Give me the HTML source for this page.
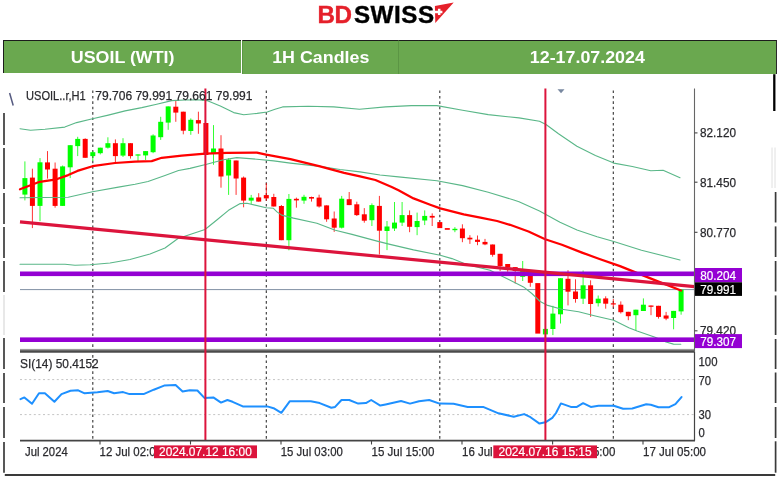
<!DOCTYPE html>
<html><head><meta charset="utf-8"><title>USOIL (WTI) 1H Candles</title>
<style>
html,body{margin:0;padding:0;background:#fff}
body{width:780px;height:478px;position:relative;overflow:hidden;font-family:"Liberation Sans",Arial,sans-serif}
.logo{position:absolute;left:317.6px;top:0.6px;height:28px;line-height:28px;font-weight:bold;font-size:24.2px;letter-spacing:-0.5px;-webkit-text-stroke:0.4px currentColor;white-space:nowrap;color:#000}
.logo .bd{color:#e5202a}
.logo .sw{margin-left:2.4px;letter-spacing:0.55px}
.hd{position:absolute;top:40px;background:#6aa84f;border-top:1.5px solid #1c1c1c;color:#fff;font-weight:bold;font-size:17.33px;text-align:center;box-sizing:border-box}
.hd span{position:relative;display:block;top:1.3px;transform:scaleX(1.03)}
.c1{left:3.2px;width:238.3px;height:33px;line-height:31px;border-left:1.5px solid #1c1c1c}
.c2{left:241.5px;width:156.5px;height:34.4px;line-height:31px;border-left:1px solid #5b9544}
.c3{left:398px;width:378.7px;height:34.4px;line-height:31px;border-left:1px solid #5b9544;border-right:1.7px solid #2a2a2a}
</style></head><body>
<div class="logo"><span class="bd">BD</span><span class="sw">SWISS</span></div>
<svg width="24" height="24" viewBox="0 0 24 24" style="position:absolute;left:432px;top:0"><path d="M2.9 6.1 L21.7 2.4 L3.3 23 Z" fill="#e5202a"/><path d="M7.2 8.7v6.4M2.6 11.9h7.8" stroke="#fff" stroke-width="2.5"/></svg>
<div class="hd c1"><span>USOIL (WTI)</span></div>
<div class="hd c2"><span>1H Candles</span></div>
<div class="hd c3"><span>12-17.07.2024</span></div>
<svg width="780" height="478" viewBox="0 0 780 478" style="position:absolute;left:0;top:0">
<line x1="92.8" y1="90.5" x2="92.8" y2="440" stroke="#333" stroke-width="1.1" stroke-dasharray="2.6,2.8"/>
<line x1="266.3" y1="90.5" x2="266.3" y2="440" stroke="#333" stroke-width="1.1" stroke-dasharray="2.6,2.8"/>
<line x1="439.8" y1="90.5" x2="439.8" y2="440" stroke="#333" stroke-width="1.1" stroke-dasharray="2.6,2.8"/>
<line x1="613.3" y1="90.5" x2="613.3" y2="440" stroke="#333" stroke-width="1.1" stroke-dasharray="2.6,2.8"/>
<line x1="20" y1="379.6" x2="694" y2="379.6" stroke="#c4c4c4" stroke-width="1" stroke-dasharray="2,2.6"/>
<line x1="20" y1="414.6" x2="694" y2="414.6" stroke="#c4c4c4" stroke-width="1" stroke-dasharray="2,2.6"/>
<line x1="20" y1="289.6" x2="694" y2="289.6" stroke="#8090a4" stroke-width="1"/>
<g><line x1="24.9" y1="161.4" x2="24.9" y2="200.4" stroke="#00ff00" stroke-width="1" stroke-opacity="0.8"/><rect x="22.4" y="178.1" width="5.0" height="16.5" fill="#00ff00"/><line x1="32.4" y1="168.7" x2="32.4" y2="228.1" stroke="#ff0000" stroke-width="1" stroke-opacity="0.8"/><rect x="29.9" y="177.6" width="5.0" height="28.3" fill="#ff0000"/><line x1="40.0" y1="158.1" x2="40.0" y2="221.2" stroke="#00ff00" stroke-width="1" stroke-opacity="0.8"/><rect x="37.5" y="162.3" width="5.0" height="43.6" fill="#00ff00"/><line x1="47.5" y1="151.1" x2="47.5" y2="178.6" stroke="#ff0000" stroke-width="1" stroke-opacity="0.8"/><rect x="45.0" y="162.4" width="5.0" height="7.1" fill="#ff0000"/><line x1="55.1" y1="162.5" x2="55.1" y2="207.7" stroke="#ff0000" stroke-width="1" stroke-opacity="0.8"/><rect x="52.6" y="168.7" width="5.0" height="37.2" fill="#ff0000"/><line x1="62.6" y1="165.5" x2="62.6" y2="205.9" stroke="#00ff00" stroke-width="1" stroke-opacity="0.8"/><rect x="60.1" y="166.4" width="5.0" height="39.5" fill="#00ff00"/><line x1="70.2" y1="145.0" x2="70.2" y2="178.1" stroke="#00ff00" stroke-width="1" stroke-opacity="0.8"/><rect x="67.7" y="145.2" width="5.0" height="22.1" fill="#00ff00"/><line x1="77.7" y1="136.8" x2="77.7" y2="156.1" stroke="#00ff00" stroke-width="1" stroke-opacity="0.8"/><rect x="75.2" y="138.9" width="5.0" height="7.2" fill="#00ff00"/><line x1="85.2" y1="138.3" x2="85.2" y2="157.8" stroke="#ff0000" stroke-width="1" stroke-opacity="0.8"/><rect x="82.7" y="138.9" width="5.0" height="18.9" fill="#ff0000"/><line x1="92.8" y1="151.0" x2="92.8" y2="161.0" stroke="#00ff00" stroke-width="1" stroke-opacity="0.8"/><rect x="90.3" y="152.2" width="5.0" height="3.9" fill="#00ff00"/><line x1="100.3" y1="147.7" x2="100.3" y2="154.4" stroke="#00ff00" stroke-width="1" stroke-opacity="0.8"/><rect x="97.8" y="147.7" width="5.0" height="5.5" fill="#00ff00"/><line x1="107.9" y1="137.3" x2="107.9" y2="148.6" stroke="#00ff00" stroke-width="1" stroke-opacity="0.8"/><rect x="105.4" y="143.2" width="5.0" height="4.5" fill="#00ff00"/><line x1="115.4" y1="139.4" x2="115.4" y2="162.8" stroke="#ff0000" stroke-width="1" stroke-opacity="0.8"/><rect x="112.9" y="143.2" width="5.0" height="12.9" fill="#ff0000"/><line x1="123.0" y1="138.2" x2="123.0" y2="157.0" stroke="#00ff00" stroke-width="1" stroke-opacity="0.8"/><rect x="120.5" y="143.2" width="5.0" height="12.4" fill="#00ff00"/><line x1="130.5" y1="143.2" x2="130.5" y2="158.6" stroke="#ff0000" stroke-width="1" stroke-opacity="0.8"/><rect x="128.0" y="143.2" width="5.0" height="12.9" fill="#ff0000"/><line x1="138.0" y1="154.4" x2="138.0" y2="161.1" stroke="#00ff00" stroke-width="1" stroke-opacity="0.8"/><rect x="135.5" y="154.4" width="5.0" height="1.2" fill="#00ff00"/><line x1="145.6" y1="151.1" x2="145.6" y2="160.0" stroke="#00ff00" stroke-width="1" stroke-opacity="0.8"/><rect x="143.1" y="151.1" width="5.0" height="4.3" fill="#00ff00"/><line x1="153.1" y1="134.3" x2="153.1" y2="153.2" stroke="#00ff00" stroke-width="1" stroke-opacity="0.8"/><rect x="150.6" y="135.5" width="5.0" height="16.7" fill="#00ff00"/><line x1="160.7" y1="116.8" x2="160.7" y2="139.9" stroke="#00ff00" stroke-width="1" stroke-opacity="0.8"/><rect x="158.2" y="121.8" width="5.0" height="15.4" fill="#00ff00"/><line x1="168.2" y1="106.4" x2="168.2" y2="129.8" stroke="#00ff00" stroke-width="1" stroke-opacity="0.8"/><rect x="165.7" y="106.4" width="5.0" height="16.2" fill="#00ff00"/><line x1="175.8" y1="100.4" x2="175.8" y2="121.8" stroke="#ff0000" stroke-width="1" stroke-opacity="0.8"/><rect x="173.3" y="106.7" width="5.0" height="5.9" fill="#ff0000"/><line x1="183.3" y1="111.7" x2="183.3" y2="134.3" stroke="#ff0000" stroke-width="1" stroke-opacity="0.8"/><rect x="180.8" y="111.7" width="5.0" height="19.0" fill="#ff0000"/><line x1="190.8" y1="118.4" x2="190.8" y2="134.8" stroke="#00ff00" stroke-width="1" stroke-opacity="0.8"/><rect x="188.3" y="119.8" width="5.0" height="11.2" fill="#00ff00"/><line x1="198.4" y1="111.7" x2="198.4" y2="133.8" stroke="#ff0000" stroke-width="1" stroke-opacity="0.8"/><rect x="195.9" y="120.1" width="5.0" height="3.4" fill="#ff0000"/><rect x="203.4" y="123.0" width="5.0" height="32.0" fill="#ff0000"/><line x1="213.5" y1="125.1" x2="213.5" y2="164.8" stroke="#00ff00" stroke-width="1" stroke-opacity="0.8"/><rect x="211.0" y="148.5" width="5.0" height="5.0" fill="#00ff00"/><line x1="221.0" y1="135.2" x2="221.0" y2="187.7" stroke="#ff0000" stroke-width="1" stroke-opacity="0.8"/><rect x="218.5" y="148.5" width="5.0" height="28.0" fill="#ff0000"/><line x1="228.6" y1="158.1" x2="228.6" y2="194.9" stroke="#00ff00" stroke-width="1" stroke-opacity="0.8"/><rect x="226.1" y="159.6" width="5.0" height="15.9" fill="#00ff00"/><line x1="236.1" y1="160.5" x2="236.1" y2="194.9" stroke="#ff0000" stroke-width="1" stroke-opacity="0.8"/><rect x="233.6" y="160.5" width="5.0" height="18.0" fill="#ff0000"/><line x1="243.6" y1="176.5" x2="243.6" y2="207.3" stroke="#ff0000" stroke-width="1" stroke-opacity="0.8"/><rect x="241.1" y="177.6" width="5.0" height="23.0" fill="#ff0000"/><line x1="251.2" y1="194.9" x2="251.2" y2="203.9" stroke="#00ff00" stroke-width="1" stroke-opacity="0.8"/><rect x="248.7" y="197.7" width="5.0" height="2.9" fill="#00ff00"/><line x1="258.7" y1="193.2" x2="258.7" y2="201.6" stroke="#ff0000" stroke-width="1" stroke-opacity="0.8"/><rect x="256.2" y="197.4" width="5.0" height="4.2" fill="#ff0000"/><line x1="266.3" y1="183.1" x2="266.3" y2="200.8" stroke="#ff0000" stroke-width="1" stroke-opacity="0.8"/><rect x="263.8" y="195.1" width="5.0" height="3.3" fill="#ff0000"/><line x1="273.8" y1="193.8" x2="273.8" y2="206.5" stroke="#ff0000" stroke-width="1" stroke-opacity="0.8"/><rect x="271.3" y="197.0" width="5.0" height="9.5" fill="#ff0000"/><line x1="281.4" y1="205.0" x2="281.4" y2="240.2" stroke="#ff0000" stroke-width="1" stroke-opacity="0.8"/><rect x="278.9" y="206.0" width="5.0" height="34.2" fill="#ff0000"/><line x1="288.9" y1="194.0" x2="288.9" y2="250.3" stroke="#00ff00" stroke-width="1" stroke-opacity="0.8"/><rect x="286.4" y="198.9" width="5.0" height="41.3" fill="#00ff00"/><line x1="296.4" y1="197.6" x2="296.4" y2="207.7" stroke="#ff0000" stroke-width="1" stroke-opacity="0.8"/><rect x="293.9" y="198.8" width="5.0" height="1.6" fill="#ff0000"/><line x1="304.0" y1="194.8" x2="304.0" y2="203.8" stroke="#00ff00" stroke-width="1" stroke-opacity="0.8"/><rect x="301.5" y="196.8" width="5.0" height="3.8" fill="#00ff00"/><line x1="311.5" y1="196.6" x2="311.5" y2="201.6" stroke="#ff0000" stroke-width="1" stroke-opacity="0.8"/><rect x="309.0" y="197.0" width="5.0" height="1.6" fill="#ff0000"/><line x1="319.1" y1="194.7" x2="319.1" y2="207.6" stroke="#ff0000" stroke-width="1" stroke-opacity="0.8"/><rect x="316.6" y="197.6" width="5.0" height="8.9" fill="#ff0000"/><line x1="326.6" y1="205.4" x2="326.6" y2="221.8" stroke="#ff0000" stroke-width="1" stroke-opacity="0.8"/><rect x="324.1" y="205.4" width="5.0" height="13.9" fill="#ff0000"/><line x1="334.2" y1="211.5" x2="334.2" y2="231.9" stroke="#ff0000" stroke-width="1" stroke-opacity="0.8"/><rect x="331.7" y="218.5" width="5.0" height="9.2" fill="#ff0000"/><line x1="341.7" y1="195.9" x2="341.7" y2="228.5" stroke="#00ff00" stroke-width="1" stroke-opacity="0.8"/><rect x="339.2" y="198.7" width="5.0" height="29.0" fill="#00ff00"/><line x1="349.2" y1="192.0" x2="349.2" y2="205.1" stroke="#ff0000" stroke-width="1" stroke-opacity="0.8"/><rect x="346.7" y="199.2" width="5.0" height="5.9" fill="#ff0000"/><line x1="356.8" y1="201.7" x2="356.8" y2="216.0" stroke="#ff0000" stroke-width="1" stroke-opacity="0.8"/><rect x="354.3" y="204.3" width="5.0" height="10.8" fill="#ff0000"/><line x1="364.3" y1="208.1" x2="364.3" y2="222.7" stroke="#ff0000" stroke-width="1" stroke-opacity="0.8"/><rect x="361.8" y="214.3" width="5.0" height="6.4" fill="#ff0000"/><line x1="371.9" y1="203.4" x2="371.9" y2="226.0" stroke="#00ff00" stroke-width="1" stroke-opacity="0.8"/><rect x="369.4" y="205.1" width="5.0" height="15.1" fill="#00ff00"/><line x1="379.4" y1="195.9" x2="379.4" y2="254.5" stroke="#ff0000" stroke-width="1" stroke-opacity="0.8"/><rect x="376.9" y="205.9" width="5.0" height="24.8" fill="#ff0000"/><line x1="387.0" y1="221.0" x2="387.0" y2="250.1" stroke="#00ff00" stroke-width="1" stroke-opacity="0.8"/><rect x="384.5" y="226.5" width="5.0" height="4.5" fill="#00ff00"/><line x1="394.5" y1="202.0" x2="394.5" y2="231.0" stroke="#00ff00" stroke-width="1" stroke-opacity="0.8"/><rect x="392.0" y="222.6" width="5.0" height="5.9" fill="#00ff00"/><line x1="402.1" y1="202.0" x2="402.1" y2="226.0" stroke="#00ff00" stroke-width="1" stroke-opacity="0.8"/><rect x="399.6" y="215.1" width="5.0" height="7.5" fill="#00ff00"/><line x1="409.6" y1="210.4" x2="409.6" y2="232.2" stroke="#ff0000" stroke-width="1" stroke-opacity="0.8"/><rect x="407.1" y="215.1" width="5.0" height="11.7" fill="#ff0000"/><line x1="417.1" y1="212.6" x2="417.1" y2="235.2" stroke="#00ff00" stroke-width="1" stroke-opacity="0.8"/><rect x="414.6" y="221.0" width="5.0" height="6.1" fill="#00ff00"/><line x1="424.7" y1="210.4" x2="424.7" y2="225.1" stroke="#00ff00" stroke-width="1" stroke-opacity="0.8"/><rect x="422.2" y="215.9" width="5.0" height="4.6" fill="#00ff00"/><line x1="432.2" y1="213.4" x2="432.2" y2="226.0" stroke="#ff0000" stroke-width="1" stroke-opacity="0.8"/><rect x="429.7" y="215.9" width="5.0" height="1.7" fill="#ff0000"/><rect x="437.3" y="222.1" width="5.0" height="6.0" fill="#ff0000"/><rect x="444.8" y="228.1" width="5.0" height="1.7" fill="#ff0000"/><line x1="454.9" y1="227.1" x2="454.9" y2="232.2" stroke="#00ff00" stroke-width="1" stroke-opacity="0.8"/><rect x="452.4" y="228.8" width="5.0" height="1.4" fill="#00ff00"/><line x1="462.4" y1="224.3" x2="462.4" y2="242.2" stroke="#ff0000" stroke-width="1" stroke-opacity="0.8"/><rect x="459.9" y="228.5" width="5.0" height="9.7" fill="#ff0000"/><line x1="469.9" y1="235.2" x2="469.9" y2="243.9" stroke="#ff0000" stroke-width="1" stroke-opacity="0.8"/><rect x="467.4" y="237.7" width="5.0" height="1.7" fill="#ff0000"/><line x1="477.5" y1="235.5" x2="477.5" y2="245.2" stroke="#ff0000" stroke-width="1" stroke-opacity="0.8"/><rect x="475.0" y="239.7" width="5.0" height="2.2" fill="#ff0000"/><line x1="485.0" y1="238.9" x2="485.0" y2="245.2" stroke="#ff0000" stroke-width="1" stroke-opacity="0.8"/><rect x="482.5" y="241.9" width="5.0" height="2.5" fill="#ff0000"/><line x1="492.6" y1="244.5" x2="492.6" y2="256.7" stroke="#ff0000" stroke-width="1" stroke-opacity="0.8"/><rect x="490.1" y="244.5" width="5.0" height="10.3" fill="#ff0000"/><line x1="500.1" y1="253.8" x2="500.1" y2="271.0" stroke="#ff0000" stroke-width="1" stroke-opacity="0.8"/><rect x="497.6" y="253.8" width="5.0" height="12.2" fill="#ff0000"/><line x1="507.7" y1="264.0" x2="507.7" y2="271.8" stroke="#ff0000" stroke-width="1" stroke-opacity="0.8"/><rect x="505.2" y="264.0" width="5.0" height="3.6" fill="#ff0000"/><line x1="515.2" y1="267.1" x2="515.2" y2="283.5" stroke="#ff0000" stroke-width="1" stroke-opacity="0.8"/><rect x="512.7" y="267.1" width="5.0" height="3.9" fill="#ff0000"/><line x1="522.7" y1="261.0" x2="522.7" y2="281.0" stroke="#00ff00" stroke-width="1" stroke-opacity="0.8"/><rect x="520.2" y="271.0" width="5.0" height="5.8" fill="#00ff00"/><line x1="530.3" y1="274.0" x2="530.3" y2="286.8" stroke="#ff0000" stroke-width="1" stroke-opacity="0.8"/><rect x="527.8" y="276.0" width="5.0" height="6.8" fill="#ff0000"/><rect x="535.3" y="283.1" width="5.0" height="50.5" fill="#ff0000"/><rect x="542.9" y="328.9" width="5.0" height="5.5" fill="#00ff00"/><line x1="552.9" y1="305.8" x2="552.9" y2="335.1" stroke="#00ff00" stroke-width="1" stroke-opacity="0.8"/><rect x="550.4" y="313.6" width="5.0" height="15.4" fill="#00ff00"/><line x1="560.5" y1="278.2" x2="560.5" y2="323.5" stroke="#00ff00" stroke-width="1" stroke-opacity="0.8"/><rect x="558.0" y="278.2" width="5.0" height="36.1" fill="#00ff00"/><line x1="568.0" y1="270.2" x2="568.0" y2="305.4" stroke="#ff0000" stroke-width="1" stroke-opacity="0.8"/><rect x="565.5" y="278.8" width="5.0" height="12.9" fill="#ff0000"/><line x1="575.5" y1="279.3" x2="575.5" y2="302.7" stroke="#ff0000" stroke-width="1" stroke-opacity="0.8"/><rect x="573.0" y="291.5" width="5.0" height="7.5" fill="#ff0000"/><line x1="583.1" y1="270.5" x2="583.1" y2="304.0" stroke="#00ff00" stroke-width="1" stroke-opacity="0.8"/><rect x="580.6" y="285.3" width="5.0" height="13.4" fill="#00ff00"/><line x1="590.6" y1="280.3" x2="590.6" y2="316.8" stroke="#ff0000" stroke-width="1" stroke-opacity="0.8"/><rect x="588.1" y="285.3" width="5.0" height="18.7" fill="#ff0000"/><line x1="598.2" y1="295.5" x2="598.2" y2="306.5" stroke="#00ff00" stroke-width="1" stroke-opacity="0.8"/><rect x="595.7" y="298.7" width="5.0" height="4.5" fill="#00ff00"/><line x1="605.7" y1="296.3" x2="605.7" y2="308.7" stroke="#ff0000" stroke-width="1" stroke-opacity="0.8"/><rect x="603.2" y="298.4" width="5.0" height="5.3" fill="#ff0000"/><line x1="613.3" y1="299.0" x2="613.3" y2="307.3" stroke="#ff0000" stroke-width="1" stroke-opacity="0.8"/><rect x="610.8" y="303.3" width="5.0" height="1.2" fill="#ff0000"/><line x1="620.8" y1="301.4" x2="620.8" y2="313.5" stroke="#ff0000" stroke-width="1" stroke-opacity="0.8"/><rect x="618.3" y="304.7" width="5.0" height="7.5" fill="#ff0000"/><line x1="628.3" y1="311.8" x2="628.3" y2="320.2" stroke="#ff0000" stroke-width="1" stroke-opacity="0.8"/><rect x="625.8" y="311.8" width="5.0" height="4.4" fill="#ff0000"/><line x1="635.9" y1="309.7" x2="635.9" y2="330.3" stroke="#00ff00" stroke-width="1" stroke-opacity="0.8"/><rect x="633.4" y="309.7" width="5.0" height="5.5" fill="#00ff00"/><line x1="643.4" y1="298.4" x2="643.4" y2="311.0" stroke="#00ff00" stroke-width="1" stroke-opacity="0.8"/><rect x="640.9" y="304.7" width="5.0" height="6.3" fill="#00ff00"/><line x1="651.0" y1="305.5" x2="651.0" y2="315.2" stroke="#ff0000" stroke-width="1" stroke-opacity="0.8"/><rect x="648.5" y="305.5" width="5.0" height="1.3" fill="#ff0000"/><line x1="658.5" y1="305.8" x2="658.5" y2="318.6" stroke="#ff0000" stroke-width="1" stroke-opacity="0.8"/><rect x="656.0" y="305.8" width="5.0" height="11.1" fill="#ff0000"/><line x1="666.1" y1="311.9" x2="666.1" y2="320.2" stroke="#ff0000" stroke-width="1" stroke-opacity="0.8"/><rect x="663.6" y="315.5" width="5.0" height="3.1" fill="#ff0000"/><line x1="673.6" y1="310.9" x2="673.6" y2="329.3" stroke="#00ff00" stroke-width="1" stroke-opacity="0.8"/><rect x="671.1" y="310.9" width="5.0" height="7.1" fill="#00ff00"/><line x1="681.1" y1="289.6" x2="681.1" y2="314.7" stroke="#00ff00" stroke-width="1" stroke-opacity="0.8"/><rect x="678.6" y="289.6" width="5.0" height="21.8" fill="#00ff00"/></g>
<polyline points="20.0,128.8 30.5,130.2 45.0,129.3 64.8,127.1 76.6,122.6 92.5,118.8 108.3,115.1 125.1,110.9 141.8,107.6 156.7,104.2 171.8,100.6 185.0,100.0 197.0,99.8 206.9,100.6 220.3,105.9 233.7,112.6 243.7,114.8 257.1,113.4 267.2,112.0 275.0,109.3 282.6,106.9 308.2,106.2 333.8,106.9 359.5,109.3 385.6,106.9 411.3,105.6 436.9,105.6 462.6,110.3 488.2,114.6 519.0,117.9 539.5,121.2 546.0,124.5 558.5,133.8 576.9,146.2 595.4,155.4 613.8,163.1 632.3,166.5 650.8,170.8 663.1,170.2 680.0,177.8" fill="none" stroke="#5ab788" stroke-width="1.1" stroke-linejoin="round" stroke-linecap="round" />
<polyline points="20.0,197.7 68.2,197.2 92.5,191.8 118.4,187.1 135.1,184.3 148.0,181.5 165.0,175.5 178.5,170.5 190.0,168.4 206.7,164.3 223.5,159.7 236.8,157.6 256.9,159.2 273.7,160.9 290.4,163.1 320.0,166.4 340.0,169.5 360.0,171.9 380.0,175.0 398.5,176.9 436.9,180.8 462.6,185.6 488.2,192.3 513.8,200.0 519.0,201.8 539.5,211.0 560.0,222.3 577.0,230.0 597.1,236.7 613.8,241.5 641.5,250.2 680.0,260.0" fill="none" stroke="#5ab788" stroke-width="1.1" stroke-linejoin="round" stroke-linecap="round" />
<polyline points="20.0,264.2 65.0,264.2 75.0,265.2 90.0,264.8 110.0,263.0 130.0,259.5 150.0,254.0 165.0,248.0 178.0,238.5 190.0,234.5 205.0,229.5 216.8,220.0 228.5,210.3 240.2,203.6 246.9,203.2 266.1,207.8 273.4,208.3 277.0,211.9 281.7,215.1 293.5,218.1 316.9,223.2 335.3,230.2 352.0,234.4 377.1,241.1 390.0,244.4 413.5,249.9 440.2,255.3 451.9,258.6 463.7,263.3 473.7,266.1 490.0,270.2 506.7,278.5 523.5,286.9 531.8,293.5 540.2,301.5 546.8,305.1 561.8,309.3 578.6,311.8 595.3,316.0 613.7,320.2 628.8,327.7 637.1,331.0 655.1,337.3 666.0,342.0 673.5,344.1 680.8,344.2" fill="none" stroke="#5ab788" stroke-width="1.1" stroke-linejoin="round" stroke-linecap="round" />
<polyline points="20.0,189.3 39.7,181.8 56.5,179.3 68.2,175.1 77.4,170.9 92.5,166.2 115.0,163.0 135.1,161.6 151.7,161.1 161.7,157.8 181.8,155.6 205.2,153.7 227.0,152.8 256.9,152.6 266.1,154.7 290.4,159.2 320.0,166.4 344.1,172.8 360.0,176.4 375.4,180.0 391.7,187.0 398.5,190.3 413.5,198.4 430.2,204.7 440.2,208.4 463.7,214.3 480.4,217.6 497.1,221.0 510.0,224.8 528.5,231.5 545.2,239.2 561.9,244.7 582.0,252.6 598.8,258.8 620.0,266.1 653.5,279.6 681.0,290.5" fill="none" stroke="#ff0000" stroke-width="2.25" stroke-linejoin="round" stroke-linecap="round" />
<rect x="20" y="271.5" width="675" height="4.6" fill="#9400d3"/>
<rect x="20" y="337.4" width="675" height="4.6" fill="#9400d3"/>
<line x1="20" y1="221.9" x2="694.5" y2="286.6" stroke="#dc143c" stroke-width="3.2"/>
<rect x="20" y="348.9" width="675" height="3.7" fill="#9a9a9a"/><rect x="20" y="350.4" width="675" height="2.2" fill="#4a4a4a"/>
<polyline points="20.5,399.2 24.4,397.4 32.0,403.8 39.0,393.3 44.9,393.3 54.4,401.8 61.5,394.1 70.5,390.8 78.2,390.3 84.6,393.3 97.4,392.3 107.7,391.0 114.1,393.3 123.1,392.1 129.5,394.1 143.6,394.1 153.8,389.7 164.1,385.6 175.6,385.1 182.6,391.5 189.7,390.3 197.4,390.5 204.4,397.9 213.3,397.4 221.0,402.6 227.4,400.0 232.6,401.8 242.8,406.4 267.2,406.4 273.6,408.2 281.3,412.8 289.7,401.3 310.8,401.3 319.7,403.1 331.3,407.7 335.1,406.9 341.5,400.0 349.2,400.0 358.2,403.6 365.9,403.1 371.2,400.0 380.3,405.6 385.6,404.4 401.0,401.0 410.0,403.6 419.0,401.3 429.2,400.0 439.5,403.6 453.6,403.8 467.7,406.9 483.1,406.9 498.5,413.3 513.8,416.7 524.1,414.1 530.5,417.2 539.5,423.6 545.4,422.3 552.3,417.9 556.0,413.0 560.9,403.4 570.8,406.9 576.9,406.9 583.1,403.2 590.8,406.9 598.5,405.7 613.8,405.7 623.1,408.8 632.3,408.5 646.2,404.2 650.8,404.8 658.5,407.2 669.2,407.2 675.4,404.2 681.5,397.1" fill="none" stroke="#1e90ff" stroke-width="2" stroke-linejoin="round" stroke-linecap="round" />
<line x1="205.4" y1="88.5" x2="205.4" y2="440" stroke="#dc143c" stroke-width="2"/>
<line x1="545.4" y1="88.5" x2="545.4" y2="440" stroke="#dc143c" stroke-width="2"/>
<line x1="694.5" y1="88.5" x2="694.5" y2="352" stroke="#666" stroke-width="1.1"/><line x1="694.5" y1="352" x2="694.5" y2="440.8" stroke="#444" stroke-width="1.2"/>
<line x1="20" y1="440.7" x2="695" y2="440.7" stroke="#444" stroke-width="1.7"/>
<line x1="100" y1="440" x2="100" y2="444.5" stroke="#444" stroke-width="1.1"/>
<line x1="190.5" y1="440" x2="190.5" y2="444.5" stroke="#444" stroke-width="1.1"/>
<line x1="281" y1="440" x2="281" y2="444.5" stroke="#444" stroke-width="1.1"/>
<line x1="371.5" y1="440" x2="371.5" y2="444.5" stroke="#444" stroke-width="1.1"/>
<line x1="462" y1="440" x2="462" y2="444.5" stroke="#444" stroke-width="1.1"/>
<line x1="552.6" y1="440" x2="552.6" y2="444.5" stroke="#444" stroke-width="1.1"/>
<line x1="643" y1="440" x2="643" y2="444.5" stroke="#444" stroke-width="1.1"/>
<line x1="694.5" y1="132.9" x2="697.5" y2="132.9" stroke="#444" stroke-width="1.1"/>
<line x1="694.5" y1="182.2" x2="697.5" y2="182.2" stroke="#444" stroke-width="1.1"/>
<line x1="694.5" y1="232.3" x2="697.5" y2="232.3" stroke="#444" stroke-width="1.1"/>
<line x1="694.5" y1="330.8" x2="697.5" y2="330.8" stroke="#444" stroke-width="1.1"/>
<path d="M557.5 89.3h7l-3.5 4z" fill="#7888a0"/>
<line x1="9.6" y1="93" x2="13.2" y2="105.5" stroke="#555a80" stroke-width="1.5"/>
<text x="26" y="100.3" font-family="Liberation Sans, Arial, sans-serif" font-size="12.8" fill="#2a2a2e" stroke="#2a2a2e" stroke-width="0.25" textLength="59.7" lengthAdjust="spacingAndGlyphs">USOIL..r,H1</text>
<text x="95.3" y="100.3" font-family="Liberation Sans, Arial, sans-serif" font-size="12.8" fill="#2a2a2e" stroke="#2a2a2e" stroke-width="0.25" textLength="157.2" lengthAdjust="spacingAndGlyphs">79.706 79.991 79.661 79.991</text>
<text x="20" y="368" font-family="Liberation Sans, Arial, sans-serif" font-size="12.8" fill="#2a2a2e" stroke="#2a2a2e" stroke-width="0.25" textLength="78.7" lengthAdjust="spacingAndGlyphs">SI(14) 50.4152</text>
<text x="700" y="137.2" font-family="Liberation Sans, Arial, sans-serif" font-size="12.8" fill="#2a2a2e" stroke="#2a2a2e" stroke-width="0.25" textLength="36" lengthAdjust="spacingAndGlyphs">82.120</text>
<text x="700" y="186.5" font-family="Liberation Sans, Arial, sans-serif" font-size="12.8" fill="#2a2a2e" stroke="#2a2a2e" stroke-width="0.25" textLength="36" lengthAdjust="spacingAndGlyphs">81.450</text>
<text x="700" y="236.6" font-family="Liberation Sans, Arial, sans-serif" font-size="12.8" fill="#2a2a2e" stroke="#2a2a2e" stroke-width="0.25" textLength="36" lengthAdjust="spacingAndGlyphs">80.770</text>
<text x="700" y="335.1" font-family="Liberation Sans, Arial, sans-serif" font-size="12.8" fill="#2a2a2e" stroke="#2a2a2e" stroke-width="0.25" textLength="36" lengthAdjust="spacingAndGlyphs">79.420</text>
<text x="698.5" y="366.0" font-family="Liberation Sans, Arial, sans-serif" font-size="12.8" fill="#2a2a2e" stroke="#2a2a2e" stroke-width="0.25" textLength="19" lengthAdjust="spacingAndGlyphs">100</text>
<text x="698.5" y="384.5" font-family="Liberation Sans, Arial, sans-serif" font-size="12.8" fill="#2a2a2e" stroke="#2a2a2e" stroke-width="0.25" textLength="12.5" lengthAdjust="spacingAndGlyphs">70</text>
<text x="698.5" y="418.9" font-family="Liberation Sans, Arial, sans-serif" font-size="12.8" fill="#2a2a2e" stroke="#2a2a2e" stroke-width="0.25" textLength="12.5" lengthAdjust="spacingAndGlyphs">30</text>
<text x="698.5" y="436.8" font-family="Liberation Sans, Arial, sans-serif" font-size="12.8" fill="#2a2a2e" stroke="#2a2a2e" stroke-width="0.25" textLength="6.3" lengthAdjust="spacingAndGlyphs">0</text>
<rect x="695" y="334.1" width="47" height="14.0" fill="#9400d3"/><text x="700.3" y="345.7" font-family="Liberation Sans, Arial, sans-serif" font-size="12.8" fill="#fff" stroke="#fff" stroke-width="0.2" textLength="35.8" lengthAdjust="spacingAndGlyphs">79.307</text>
<rect x="695" y="268" width="47" height="14.3" fill="#9400d3"/><text x="700.3" y="279.8" font-family="Liberation Sans, Arial, sans-serif" font-size="12.8" fill="#fff" stroke="#fff" stroke-width="0.2" textLength="35.8" lengthAdjust="spacingAndGlyphs">80.204</text>
<rect x="695" y="282.3" width="47" height="13.6" fill="#000"/><text x="700.3" y="293.7" font-family="Liberation Sans, Arial, sans-serif" font-size="12.8" fill="#fff" stroke="#fff" stroke-width="0.2" textLength="35.8" lengthAdjust="spacingAndGlyphs">79.991</text>
<text x="25" y="456.4" font-family="Liberation Sans, Arial, sans-serif" font-size="12.8" fill="#2a2a2e" stroke="#2a2a2e" stroke-width="0.25" textLength="42.7" lengthAdjust="spacingAndGlyphs">Jul 2024</text>
<text x="99.5" y="456.4" font-family="Liberation Sans, Arial, sans-serif" font-size="12.8" fill="#2a2a2e" stroke="#2a2a2e" stroke-width="0.25" textLength="62.5" lengthAdjust="spacingAndGlyphs">12 Jul 02:00</text>
<text x="280.8" y="456.4" font-family="Liberation Sans, Arial, sans-serif" font-size="12.8" fill="#2a2a2e" stroke="#2a2a2e" stroke-width="0.25" textLength="62" lengthAdjust="spacingAndGlyphs">15 Jul 03:00</text>
<text x="371.5" y="456.4" font-family="Liberation Sans, Arial, sans-serif" font-size="12.8" fill="#2a2a2e" stroke="#2a2a2e" stroke-width="0.25" textLength="62.9" lengthAdjust="spacingAndGlyphs">15 Jul 15:00</text>
<text x="462" y="456.4" font-family="Liberation Sans, Arial, sans-serif" font-size="12.8" fill="#2a2a2e" stroke="#2a2a2e" stroke-width="0.25" textLength="62.5" lengthAdjust="spacingAndGlyphs">16 Jul 03:00</text>
<text x="552.6" y="456.4" font-family="Liberation Sans, Arial, sans-serif" font-size="12.8" fill="#2a2a2e" stroke="#2a2a2e" stroke-width="0.25" textLength="62.8" lengthAdjust="spacingAndGlyphs">16 Jul 15:00</text>
<text x="643" y="456.4" font-family="Liberation Sans, Arial, sans-serif" font-size="12.8" fill="#2a2a2e" stroke="#2a2a2e" stroke-width="0.25" textLength="63" lengthAdjust="spacingAndGlyphs">17 Jul 05:00</text>
<rect x="154" y="445.4" width="103.0" height="12.8" fill="#dc143c"/><text x="159" y="456.4" font-family="Liberation Sans, Arial, sans-serif" font-size="12.8" fill="#fff" stroke="#fff" stroke-width="0.2" textLength="92.8" lengthAdjust="spacingAndGlyphs">2024.07.12 16:00</text>
<rect x="493.3" y="445.4" width="103.7" height="12.8" fill="#dc143c"/><text x="498.5" y="456.4" font-family="Liberation Sans, Arial, sans-serif" font-size="12.8" fill="#fff" stroke="#fff" stroke-width="0.2" textLength="93.2" lengthAdjust="spacingAndGlyphs">2024.07.16 15:15</text>
<line x1="4.0" y1="113" x2="4.0" y2="145" stroke="#3a3a3a" stroke-width="1.7"/>
<line x1="4.0" y1="148" x2="4.0" y2="189" stroke="#3a3a3a" stroke-width="1.7"/>
<line x1="4.0" y1="193" x2="4.0" y2="224" stroke="#3a3a3a" stroke-width="1.7"/>
<line x1="4.0" y1="227" x2="4.0" y2="258" stroke="#3a3a3a" stroke-width="1.7"/>
<line x1="4.0" y1="261" x2="4.0" y2="292" stroke="#3a3a3a" stroke-width="1.7"/>
<line x1="4.0" y1="338" x2="4.0" y2="369" stroke="#3a3a3a" stroke-width="1.7"/>
<line x1="4.0" y1="373" x2="4.0" y2="403" stroke="#3a3a3a" stroke-width="1.7"/>
<line x1="4.0" y1="407" x2="4.0" y2="438" stroke="#3a3a3a" stroke-width="1.7"/>
<line x1="4.0" y1="442" x2="4.0" y2="472.7" stroke="#3a3a3a" stroke-width="1.7"/>
<line x1="4.0" y1="295" x2="4.0" y2="335" stroke="#e4e4e4" stroke-width="1.7"/>
<line x1="774.3" y1="74.2" x2="774.3" y2="111" stroke="#000" stroke-width="2.3"/>
<line x1="775.6" y1="192" x2="775.6" y2="222.5" stroke="#3a3a3a" stroke-width="1.7"/>
<line x1="775.6" y1="226.4" x2="775.6" y2="257" stroke="#3a3a3a" stroke-width="1.7"/>
<line x1="775.6" y1="261" x2="775.6" y2="291.5" stroke="#3a3a3a" stroke-width="1.7"/>
<line x1="775.6" y1="295.4" x2="775.6" y2="335" stroke="#3a3a3a" stroke-width="1.7"/>
<line x1="775.6" y1="339" x2="775.6" y2="369" stroke="#3a3a3a" stroke-width="1.7"/>
<line x1="775.6" y1="372.5" x2="775.6" y2="403" stroke="#3a3a3a" stroke-width="1.7"/>
<line x1="775.6" y1="407" x2="775.6" y2="438" stroke="#3a3a3a" stroke-width="1.7"/>
<line x1="775.6" y1="441.3" x2="775.6" y2="472.7" stroke="#3a3a3a" stroke-width="1.7"/>
<line x1="772" y1="147.5" x2="772" y2="188" stroke="#e0e0e0" stroke-width="1"/><line x1="775" y1="147.5" x2="775" y2="188" stroke="#e0e0e0" stroke-width="1"/>
<line x1="4.8" y1="475" x2="775.2" y2="475" stroke="#3a3a3a" stroke-width="1.8"/>
</svg>
</body></html>
